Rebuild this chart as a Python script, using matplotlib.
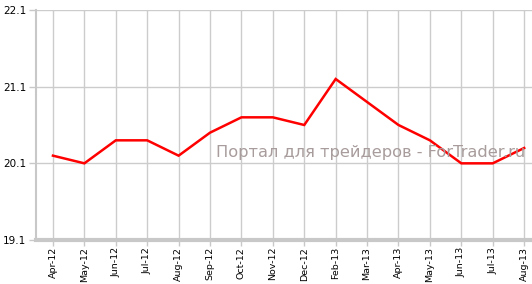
import matplotlib
matplotlib.use("Agg")
import matplotlib.pyplot as plt

months = ["Apr-12", "May-12", "Jun-12", "Jul-12", "Aug-12", "Sep-12", "Oct-12", "Nov-12",
          "Dec-12", "Feb-13", "Mar-13", "Apr-13", "May-13", "Jun-13", "Jul-13", "Aug-13"]
values = [20.2, 20.1, 20.4, 20.4, 20.2, 20.5, 20.7, 20.7,
          20.6, 21.2, 20.9, 20.6, 20.4, 20.1, 20.1, 20.3]
yticks = [19.1, 20.1, 21.1, 22.1]

W, H = 532, 284
fig = plt.figure(figsize=(W / 100, H / 100), dpi=100)
left, right, top, bottom = 36, 532, 10, 240
ax = fig.add_axes([left / W, 1 - bottom / H, (right - left) / W, (bottom - top) / H])

x = list(range(len(months)))
ax.plot(x, values, color="#ff0000", lw=1.8, zorder=3, solid_joinstyle="miter")

ax.set_ylim(19.1, 22.1)
ax.set_xlim(-0.54, 15.25)
ax.set_yticks(yticks)
ax.set_yticklabels([f"{v:.1f}" for v in yticks], fontsize=7.5, color="black")
ax.set_xticks(x)
ax.set_xticklabels(months, rotation=90, fontsize=6.8, color="black")

ax.grid(True, color="#cccccc", lw=1.0)
ax.set_axisbelow(True)
for s in ["top", "right"]:
    ax.spines[s].set_visible(False)
ax.spines["left"].set_color("#c8c8c8")
ax.spines["left"].set_linewidth(1.5)
ax.spines["bottom"].set_color("#c8c8c8")
ax.spines["bottom"].set_linewidth(3)
ax.tick_params(axis="y", colors="#c8c8c8", length=5, width=1, labelcolor="black", pad=2)
ax.tick_params(axis="x", colors="#c8c8c8", length=4, width=1, labelcolor="black", pad=1)

fig.text(371 / W, 1 - 153 / H, "Портал для трейдеров - ForTrader.ru", fontsize=11.7,
         color="#a89c9c", ha="center", va="center")

fig.savefig("out.png", dpi=100)
